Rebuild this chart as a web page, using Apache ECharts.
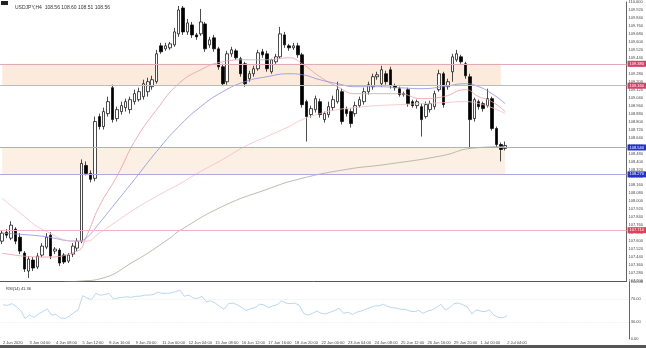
<!DOCTYPE html>
<html>
<head>
<meta charset="utf-8">
<script src="https://cdn.jsdelivr.net/npm/echarts@6/dist/echarts.min.js"></script>
<style>
html, body { margin: 0; padding: 0; background: #fff; }
#main { width: 646px; height: 348px; }
</style>
</head>
<body>
<div id="main"></div>
<script>
// date labels, one every 6 bars
const tickLabels = ['2 Jun 2020', '3 Jun 04:00', '4 Jun 08:00', '5 Jun 12:00', '8 Jun 16:00', '9 Jun 20:00',
    '11 Jun 00:00', '12 Jun 04:00', '15 Jun 08:00', '16 Jun 12:00', '17 Jun 16:00', '18 Jun 20:00',
    '22 Jun 00:00', '23 Jun 04:00', '24 Jun 08:00', '25 Jun 12:00', '26 Jun 16:00', '29 Jun 20:00', '1 Jul 00:00', '2 Jul 04:00']

// open, close, low, high
const ohlc = [
    [107.60, 107.68, 107.57, 107.71], [107.69, 107.66, 107.63, 107.72], [107.63, 107.76, 107.61, 107.80], [107.72, 107.60, 107.57, 107.74],
    [107.64, 107.50, 107.47, 107.68], [107.48, 107.32, 107.29, 107.50], [107.30, 107.42, 107.23, 107.45], [107.41, 107.33, 107.30, 107.44],
    [107.34, 107.45, 107.32, 107.48], [107.46, 107.55, 107.44, 107.58], [107.54, 107.64, 107.52, 107.68], [107.66, 107.45, 107.42, 107.69],
    [107.50, 107.52, 107.47, 107.54], [107.51, 107.38, 107.35, 107.53], [107.46, 107.39, 107.37, 107.48], [107.40, 107.46, 107.38, 107.48],
    [107.47, 107.55, 107.44, 107.58], [107.53, 107.60, 107.50, 107.63], [107.60, 108.38, 107.58, 108.42], [108.36, 108.28, 108.26, 108.40],
    [108.28, 108.22, 108.19, 108.31], [108.23, 108.80, 108.20, 108.85], [108.85, 108.75, 108.72, 108.88], [108.75, 108.90, 108.72, 108.94],
    [108.88, 109.00, 108.85, 109.05], [109.14, 108.82, 108.79, 109.17], [108.83, 108.92, 108.80, 108.95], [108.90, 108.96, 108.87, 109.00],
    [108.94, 109.00, 108.90, 109.03], [108.92, 109.02, 108.88, 109.05], [109.00, 109.08, 108.97, 109.12], [109.02, 109.10, 109.00, 109.14],
    [109.05, 109.18, 109.02, 109.22], [109.10, 109.20, 109.05, 109.24], [109.15, 109.22, 109.12, 109.26], [109.20, 109.48, 109.18, 109.52],
    [109.56, 109.50, 109.48, 109.59], [109.53, 109.56, 109.51, 109.59], [109.54, 109.58, 109.52, 109.60], [109.57, 109.70, 109.55, 109.74],
    [109.68, 109.92, 109.65, 109.96], [109.94, 109.70, 109.67, 109.96], [109.70, 109.79, 109.67, 109.83], [109.77, 109.67, 109.64, 109.80],
    [109.67, 109.65, 109.62, 109.69], [109.68, 109.80, 109.66, 109.93], [109.78, 109.53, 109.50, 109.80], [109.57, 109.62, 109.54, 109.65],
    [109.64, 109.53, 109.50, 109.67], [109.53, 109.35, 109.32, 109.55], [109.35, 109.18, 109.16, 109.38], [109.20, 109.48, 109.17, 109.51],
    [109.48, 109.52, 109.45, 109.55], [109.51, 109.44, 109.42, 109.53], [109.43, 109.28, 109.25, 109.45], [109.38, 109.18, 109.15, 109.40],
    [109.23, 109.28, 109.20, 109.31], [109.28, 109.33, 109.25, 109.36], [109.33, 109.49, 109.31, 109.52], [109.50, 109.47, 109.44, 109.53],
    [109.48, 109.33, 109.30, 109.51], [109.30, 109.42, 109.28, 109.43], [109.40, 109.45, 109.38, 109.48], [109.45, 109.68, 109.43, 109.75],
    [109.67, 109.57, 109.54, 109.70], [109.56, 109.54, 109.51, 109.58], [109.54, 109.56, 109.52, 109.59], [109.56, 109.47, 109.44, 109.59],
    [109.47, 108.97, 108.94, 109.49], [109.00, 108.85, 108.60, 109.02], [108.87, 108.93, 108.84, 108.96], [108.92, 109.03, 108.89, 109.06],
    [109.00, 108.87, 108.84, 109.03], [108.82, 108.88, 108.79, 108.90], [108.87, 108.95, 108.84, 109.00], [108.94, 109.02, 108.91, 109.06],
    [109.00, 109.12, 108.98, 109.20], [109.10, 108.80, 108.77, 109.13], [108.92, 108.88, 108.85, 108.95], [108.90, 108.78, 108.74, 108.93],
    [108.88, 108.96, 108.85, 109.00], [108.96, 109.02, 108.94, 109.05], [109.00, 109.10, 108.97, 109.14], [109.10, 109.17, 109.07, 109.20],
    [109.15, 109.25, 109.12, 109.28], [109.25, 109.27, 109.22, 109.30], [109.18, 109.32, 109.15, 109.36], [109.28, 109.20, 109.17, 109.31],
    [109.32, 109.16, 109.13, 109.35], [109.16, 109.14, 109.11, 109.18], [109.13, 109.07, 109.05, 109.15], [109.07, 109.08, 109.05, 109.10],
    [109.12, 108.98, 108.95, 109.14], [109.00, 108.96, 108.94, 109.02], [108.96, 109.00, 108.93, 109.02], [108.95, 108.82, 108.65, 108.98],
    [108.85, 108.97, 108.83, 109.00], [108.92, 108.98, 108.89, 109.01], [108.95, 109.08, 108.92, 109.11], [109.12, 109.28, 109.10, 109.32],
    [109.28, 108.97, 108.94, 109.30], [109.15, 109.20, 109.12, 109.23], [109.30, 109.45, 109.20, 109.48], [109.42, 109.48, 109.40, 109.52],
    [109.45, 109.40, 109.38, 109.47], [109.38, 109.26, 109.23, 109.40], [109.25, 108.82, 108.53, 109.28], [108.83, 109.02, 108.80, 109.04],
    [109.00, 108.95, 108.92, 109.02], [108.98, 108.93, 108.90, 109.00], [108.96, 109.03, 108.94, 109.13], [109.03, 108.73, 108.71, 109.05],
    [108.73, 108.57, 108.54, 108.75], [108.57, 108.52, 108.40, 108.59], [108.53, 108.56, 108.51, 108.60]
]

// moving averages as [bar, price]
const maFast = [[0, 107.48], [9, 107.44], [17, 107.50], [19, 107.64], [22, 107.95], [26, 108.25], [30, 108.60], [35, 108.92],
    [40, 109.18], [45, 109.32], [50, 109.40], [55, 109.42], [60, 109.42], [65, 109.44], [68, 109.38], [72, 109.25], [76, 109.15],
    [80, 109.08], [85, 109.08], [90, 109.08], [95, 109.03], [100, 109.05], [105, 109.12], [108, 109.05], [111, 109.00], [114, 108.90]]
const maMid = [[0, 107.68], [9, 107.65], [17, 107.60], [19, 107.63], [22, 107.78], [26, 108.00], [30, 108.22], [35, 108.50],
    [40, 108.75], [45, 108.95], [50, 109.10], [55, 109.20], [60, 109.25], [65, 109.28], [68, 109.27], [72, 109.22], [76, 109.18],
    [80, 109.15], [85, 109.15], [90, 109.14], [95, 109.13], [100, 109.15], [105, 109.18], [108, 109.15], [111, 109.08], [114, 108.98]]
const maSlow = [[0, 108.03], [5, 107.85], [9, 107.72], [17, 107.60], [19, 107.60], [22, 107.68], [26, 107.80], [30, 107.92],
    [35, 108.05], [40, 108.17], [45, 108.30], [50, 108.42], [55, 108.55], [60, 108.65], [65, 108.75], [68, 108.82], [72, 108.88],
    [76, 108.92], [80, 108.94], [85, 108.96], [90, 108.97], [95, 108.98], [100, 108.99], [105, 109.00], [108, 108.98], [111, 108.94], [114, 108.88]]
const ma200 = [[14, 107.19], [18, 107.20], [22, 107.22], [30, 107.40], [38, 107.63], [40, 107.70], [50, 107.95], [60, 108.12],
    [67, 108.22], [78, 108.32], [87, 108.37], [100, 108.46], [106, 108.53], [114, 108.55]]

const rsi = [60, 59, 62, 57, 50, 36, 42, 38, 44, 48, 53, 42, 43, 37, 36, 40, 46, 51, 76, 72,
    69, 80, 77, 78, 80, 70, 72, 73, 74, 73, 75, 75, 77, 77, 78, 82, 80, 80, 81, 83,
    86, 75, 77, 72, 71, 75, 65, 67, 63, 57, 52, 62, 63, 60, 55, 50, 53, 55, 61, 60,
    55, 58, 60, 67, 63, 62, 63, 59, 45, 42, 45, 49, 45, 44, 47, 50, 54, 45, 47, 43,
    47, 49, 52, 55, 58, 58, 61, 57, 55, 54, 52, 52, 49, 48, 50, 45, 49, 51, 55, 61,
    51, 55, 62, 63, 60, 56, 44, 51, 49, 48, 51, 42, 38, 37, 41.36]

// support / resistance levels and zones
const zoneTop = [109.38, 109.16]
const zoneBottom = [108.54, 108.27]
const lowLevel = 107.71

const slots = 142
const categories = Array.from({ length: slots }, (_, i) => i)

var myChart = echarts.init(document.getElementById('main'))

function lvl(v, lineColor, tagColor) {
    return {
        yAxis: v,
        lineStyle: { color: lineColor, width: 1, type: 'solid' },
        label: { backgroundColor: tagColor, color: '#fff' }
    }
}

let option = {
    animation: false,
    title: [
        { text: 'USDJPY,H4  108.56 108.60 108.51 108.56', left: 10, top: 0, textStyle: { fontSize: 5, fontWeight: 'normal', color: '#333' } },
        { text: 'RSI(14) 41.36', left: 1, top: 282, textStyle: { fontSize: 4, fontWeight: 'normal', color: '#333' } }
    ],
    graphic: [
        { type: 'rect', left: 1, top: 1, shape: { width: 7, height: 4 }, style: { fill: '#222' } },
        { type: 'rect', left: 0, top: 345, shape: { width: 646, height: 3 }, style: { fill: '#555' } }
    ],
    grid: [
        { left: 0, right: 14, top: 0, height: 281 },
        { left: 0, right: 14, top: 282, height: 57 }
    ],
    xAxis: [
        {
            type: 'category', data: categories, gridIndex: 0, boundaryGap: true,
            axisLine: { show: true, lineStyle: { color: '#555', width: 1 } },
            axisTick: { show: false }, axisLabel: { show: false }, splitLine: { show: false }
        },
        {
            type: 'category', data: categories, gridIndex: 1, boundaryGap: true,
            axisLine: { show: false }, axisTick: { show: false }, splitLine: { show: false },
            axisLabel: {
                fontSize: 4, color: '#444', margin: 2, align: 'left',
                interval: (i) => i % 6 === 0 && i / 6 < tickLabels.length,
                formatter: (v, i) => tickLabels[i / 6] || ''
            }
        }
    ],
    yAxis: [
        {
            type: 'value', gridIndex: 0, position: 'right', min: 107.20, max: 110.00, interval: 0.08,
            axisLine: { show: true, lineStyle: { color: '#666', width: 1 } },
            axisTick: { show: false }, splitLine: { show: false },
            axisLabel: { fontSize: 4, color: '#444', margin: 2, formatter: (v) => v.toFixed(3) }
        },
        {
            type: 'value', gridIndex: 1, position: 'right', min: 0, max: 100, interval: 10,
            axisLine: { show: true, lineStyle: { color: '#666', width: 1 } },
            axisTick: { show: false }, splitLine: { show: false },
            axisLabel: {
                fontSize: 4, color: '#444', margin: 2,
                formatter: (v) => [0, 30, 70, 100].includes(v) ? v.toFixed(2) : ''
            }
        }
    ],
    series: [
        {
            type: 'candlestick', xAxisIndex: 0, yAxisIndex: 0, data: ohlc, barWidth: 3,
            itemStyle: { color: '#fff', color0: '#000', borderColor: '#000', borderColor0: '#000', borderWidth: 0.7 },
            markArea: {
                silent: true,
                data: [
                    [{ xAxis: 0, yAxis: zoneTop[0], itemStyle: { color: '#fcebdc' } }, { xAxis: 113, yAxis: zoneTop[1] }],
                    [{ xAxis: 0, yAxis: zoneBottom[0], itemStyle: { color: '#fcefe4' } }, { xAxis: 114, yAxis: zoneBottom[1] }]
                ]
            },
            markLine: {
                silent: true, symbol: 'none',
                label: { position: 'end', distance: 1, fontSize: 4, padding: [1, 2], formatter: (p) => p.value.toFixed(3) },
                data: [
                    lvl(zoneTop[0], '#e2a9ba', '#d6416a'),
                    lvl(zoneTop[1], '#e2a9ba', '#d6416a'),
                    lvl(zoneBottom[0], '#a9abdb', '#2631c9'),
                    lvl(zoneBottom[1], '#a9abdb', '#2631c9'),
                    lvl(lowLevel, '#f1b3c0', '#e0405c')
                ]
            }
        },
        { type: 'line', xAxisIndex: 0, yAxisIndex: 0, data: maFast, symbol: 'none', smooth: true, lineStyle: { color: '#ea9aa6', width: 0.8 } },
        { type: 'line', xAxisIndex: 0, yAxisIndex: 0, data: maMid, symbol: 'none', smooth: true, lineStyle: { color: '#8c8fdc', width: 0.8 } },
        { type: 'line', xAxisIndex: 0, yAxisIndex: 0, data: maSlow, symbol: 'none', smooth: true, lineStyle: { color: '#f2bcc4', width: 0.8 } },
        { type: 'line', xAxisIndex: 0, yAxisIndex: 0, data: ma200, symbol: 'none', smooth: true, lineStyle: { color: '#a3ad9c', width: 0.8 } },
        {
            type: 'line', xAxisIndex: 1, yAxisIndex: 1, data: rsi, symbol: 'none', lineStyle: { color: '#a9cbea', width: 0.8 },
            markLine: {
                silent: true, symbol: 'none', label: { show: false },
                lineStyle: { color: '#e4e4e4', type: 'dotted', width: 0.6 },
                data: [{ yAxis: 70 }, { yAxis: 30 }]
            }
        }
    ]
}

myChart.setOption(option)
</script>
</body>
</html>
